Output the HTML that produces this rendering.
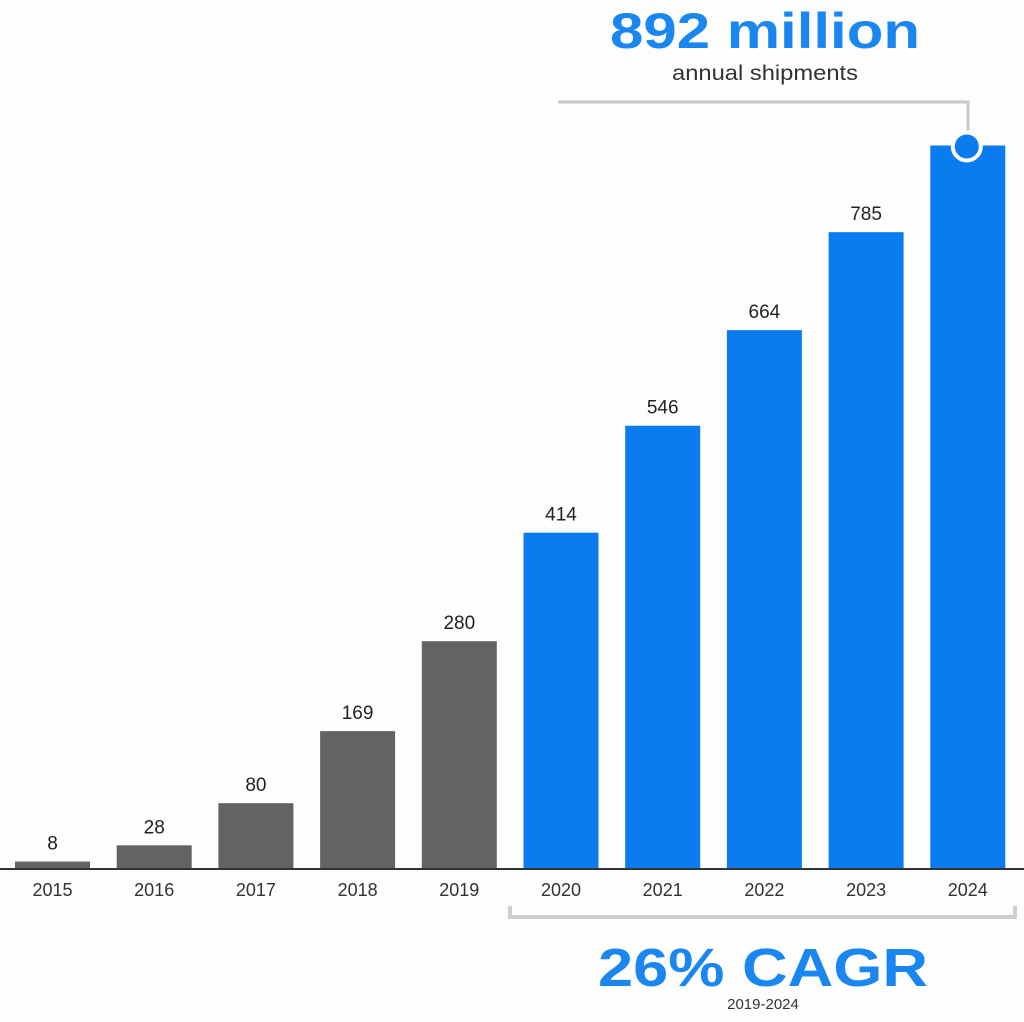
<!DOCTYPE html>
<html><head><meta charset="utf-8"><style>
html,body{margin:0;padding:0;background:#fdfdfd;}
svg{display:block;font-family:"Liberation Sans",sans-serif;}
</style></head><body>
<svg id="chart" width="1024" height="1022" viewBox="0 0 1024 1022">
<text x="765" y="48" text-anchor="middle" font-size="50" font-weight="bold" fill="#1a87f0" textLength="310" lengthAdjust="spacingAndGlyphs">892 million</text>
<text x="765" y="80" text-anchor="middle" font-size="21" fill="#333" textLength="186" lengthAdjust="spacingAndGlyphs">annual shipments</text>
<path d="M558 102 H968 V132" fill="none" stroke="#c8c8c8" stroke-width="3"/>
<g id="bars"></g>
<line x1="0" y1="869" x2="1024" y2="869" stroke="#333" stroke-width="2"/>
<path d="M510 906 V917 H1015 V906" fill="none" stroke="#cfcfcf" stroke-width="4"/>
<text x="763" y="986" text-anchor="middle" font-size="54" font-weight="bold" fill="#1a87f0" textLength="330" lengthAdjust="spacingAndGlyphs">26% CAGR</text>
<text x="763" y="1009" text-anchor="middle" font-size="15" fill="#333">2019-2024</text>
</svg>
<script>
const years = ["2015","2016","2017","2018","2019","2020","2021","2022","2023","2024"];
const values = [8,28,80,169,280,414,546,664,785,892];
const labels = ["8","28","80","169","280","414","546","664","785",""];
const forecast = [false,false,false,false,false,true,true,true,true,true];
const ns="http://www.w3.org/2000/svg";
const g=document.getElementById('bars');
const base=868, scale=0.81;
function yPos(v){return base-v*scale;}
function xPos(i){return 15+i*101.7;}
const bw=75;
years.forEach((yr,i)=>{
  const r=document.createElementNS(ns,'rect');
  
  
  r.setAttribute('x',xPos(i));r.setAttribute('width',bw);
  r.setAttribute('y',yPos(values[i]));r.setAttribute('height',base-yPos(values[i]));
  r.setAttribute('fill',forecast[i]?'#0a7cf0':'#636363');
  g.appendChild(r);
  if(labels[i]){
    const t=document.createElementNS(ns,'text');
    
    
    t.setAttribute('x',xPos(i)+bw/2);t.setAttribute('y',yPos(values[i])-12);
    t.setAttribute('text-anchor','middle');t.setAttribute('font-size','19');t.setAttribute('fill','#222');
    t.textContent=labels[i];g.appendChild(t);
  }
  const yl=document.createElementNS(ns,'text');
  
  
  yl.setAttribute('x',xPos(i)+bw/2);yl.setAttribute('y',896);
  yl.setAttribute('text-anchor','middle');yl.setAttribute('font-size','18');yl.setAttribute('fill','#333');
  yl.textContent=yr;g.appendChild(yl);
});
const last=values.length-1;
const c=document.createElementNS(ns,'circle');


c.setAttribute('cx',xPos(last)+bw/2-1);c.setAttribute('cy',yPos(values[last])+1);c.setAttribute('r',14);
c.setAttribute('fill','#0a7cf0');c.setAttribute('stroke','#fdfdfd');c.setAttribute('stroke-width','4');
g.appendChild(c);
</script>
</body></html>
